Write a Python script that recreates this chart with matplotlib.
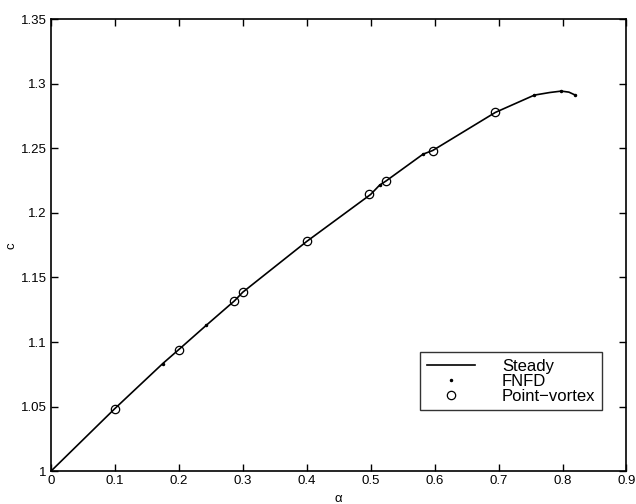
import matplotlib
matplotlib.use("Agg")
import matplotlib.pyplot as plt
from matplotlib.ticker import FuncFormatter

plt.rcParams['font.family'] = ['Liberation Sans', 'DejaVu Sans']

# steady branch
alpha_steady = [0.0, 0.1, 0.175, 0.2, 0.243, 0.287, 0.3, 0.4, 0.5, 0.514, 0.524,
                0.582, 0.597, 0.695, 0.756, 0.78, 0.798, 0.81, 0.82]
c_steady = [1.0, 1.0485, 1.0834, 1.0942, 1.113, 1.1319, 1.1386, 1.1779, 1.2143,
            1.2215, 1.2247, 1.2455, 1.2483, 1.2778, 1.2912, 1.2932, 1.2943,
            1.2935, 1.2912]

# FNFD runs
alpha_fnfd = [0.1755, 0.243, 0.514, 0.582, 0.756, 0.798, 0.82]
c_fnfd = [1.0834, 1.113, 1.2215, 1.2455, 1.2912, 1.2943, 1.2912]

# point-vortex model
alpha_pv = [0.1, 0.2, 0.287, 0.3, 0.4, 0.498, 0.524, 0.597, 0.695]
c_pv = [1.0485, 1.0942, 1.1319, 1.1386, 1.1779, 1.2143, 1.2247, 1.2483, 1.2778]

fig = plt.figure(figsize=(6.36, 5.04), dpi=100)
ax = fig.add_axes([0.080, 0.065, 0.905, 0.897])

ax.plot(alpha_steady, c_steady, '-', color='black', lw=1.2, label='Steady')
ax.plot(alpha_fnfd, c_fnfd, '.', color='black', ms=3, label='FNFD')
ax.plot(alpha_pv, c_pv, 'o', color='black', mfc='none', ms=6, mew=0.9,
        label='Point\u2212vortex')

ax.set_xlim(0, 0.9)
ax.set_ylim(1, 1.35)
ax.set_xticks([i / 10 for i in range(10)])
ax.set_yticks([1 + i * 0.05 for i in range(8)])
fmt = FuncFormatter(lambda v, p: '%g' % round(v, 2))
ax.xaxis.set_major_formatter(fmt)
ax.yaxis.set_major_formatter(fmt)
ax.tick_params(direction='in', top=True, right=True, length=5, width=1,
               labelsize=9.5, pad=3)
for s in ax.spines.values():
    s.set_linewidth(1.2)

ax.set_xlabel('\u03b1', fontsize=9.5, labelpad=4)
ax.set_ylabel('c', fontsize=9.5, labelpad=2)

leg = ax.legend(loc='lower right', bbox_to_anchor=(0.958, 0.135), fontsize=12,
                frameon=True, fancybox=False, edgecolor='black',
                handlelength=2.9, handletextpad=1.6, borderpad=0.4,
                labelspacing=0.0, borderaxespad=0)
leg.get_frame().set_linewidth(1.0)

fig.savefig('out.png', dpi=100)
